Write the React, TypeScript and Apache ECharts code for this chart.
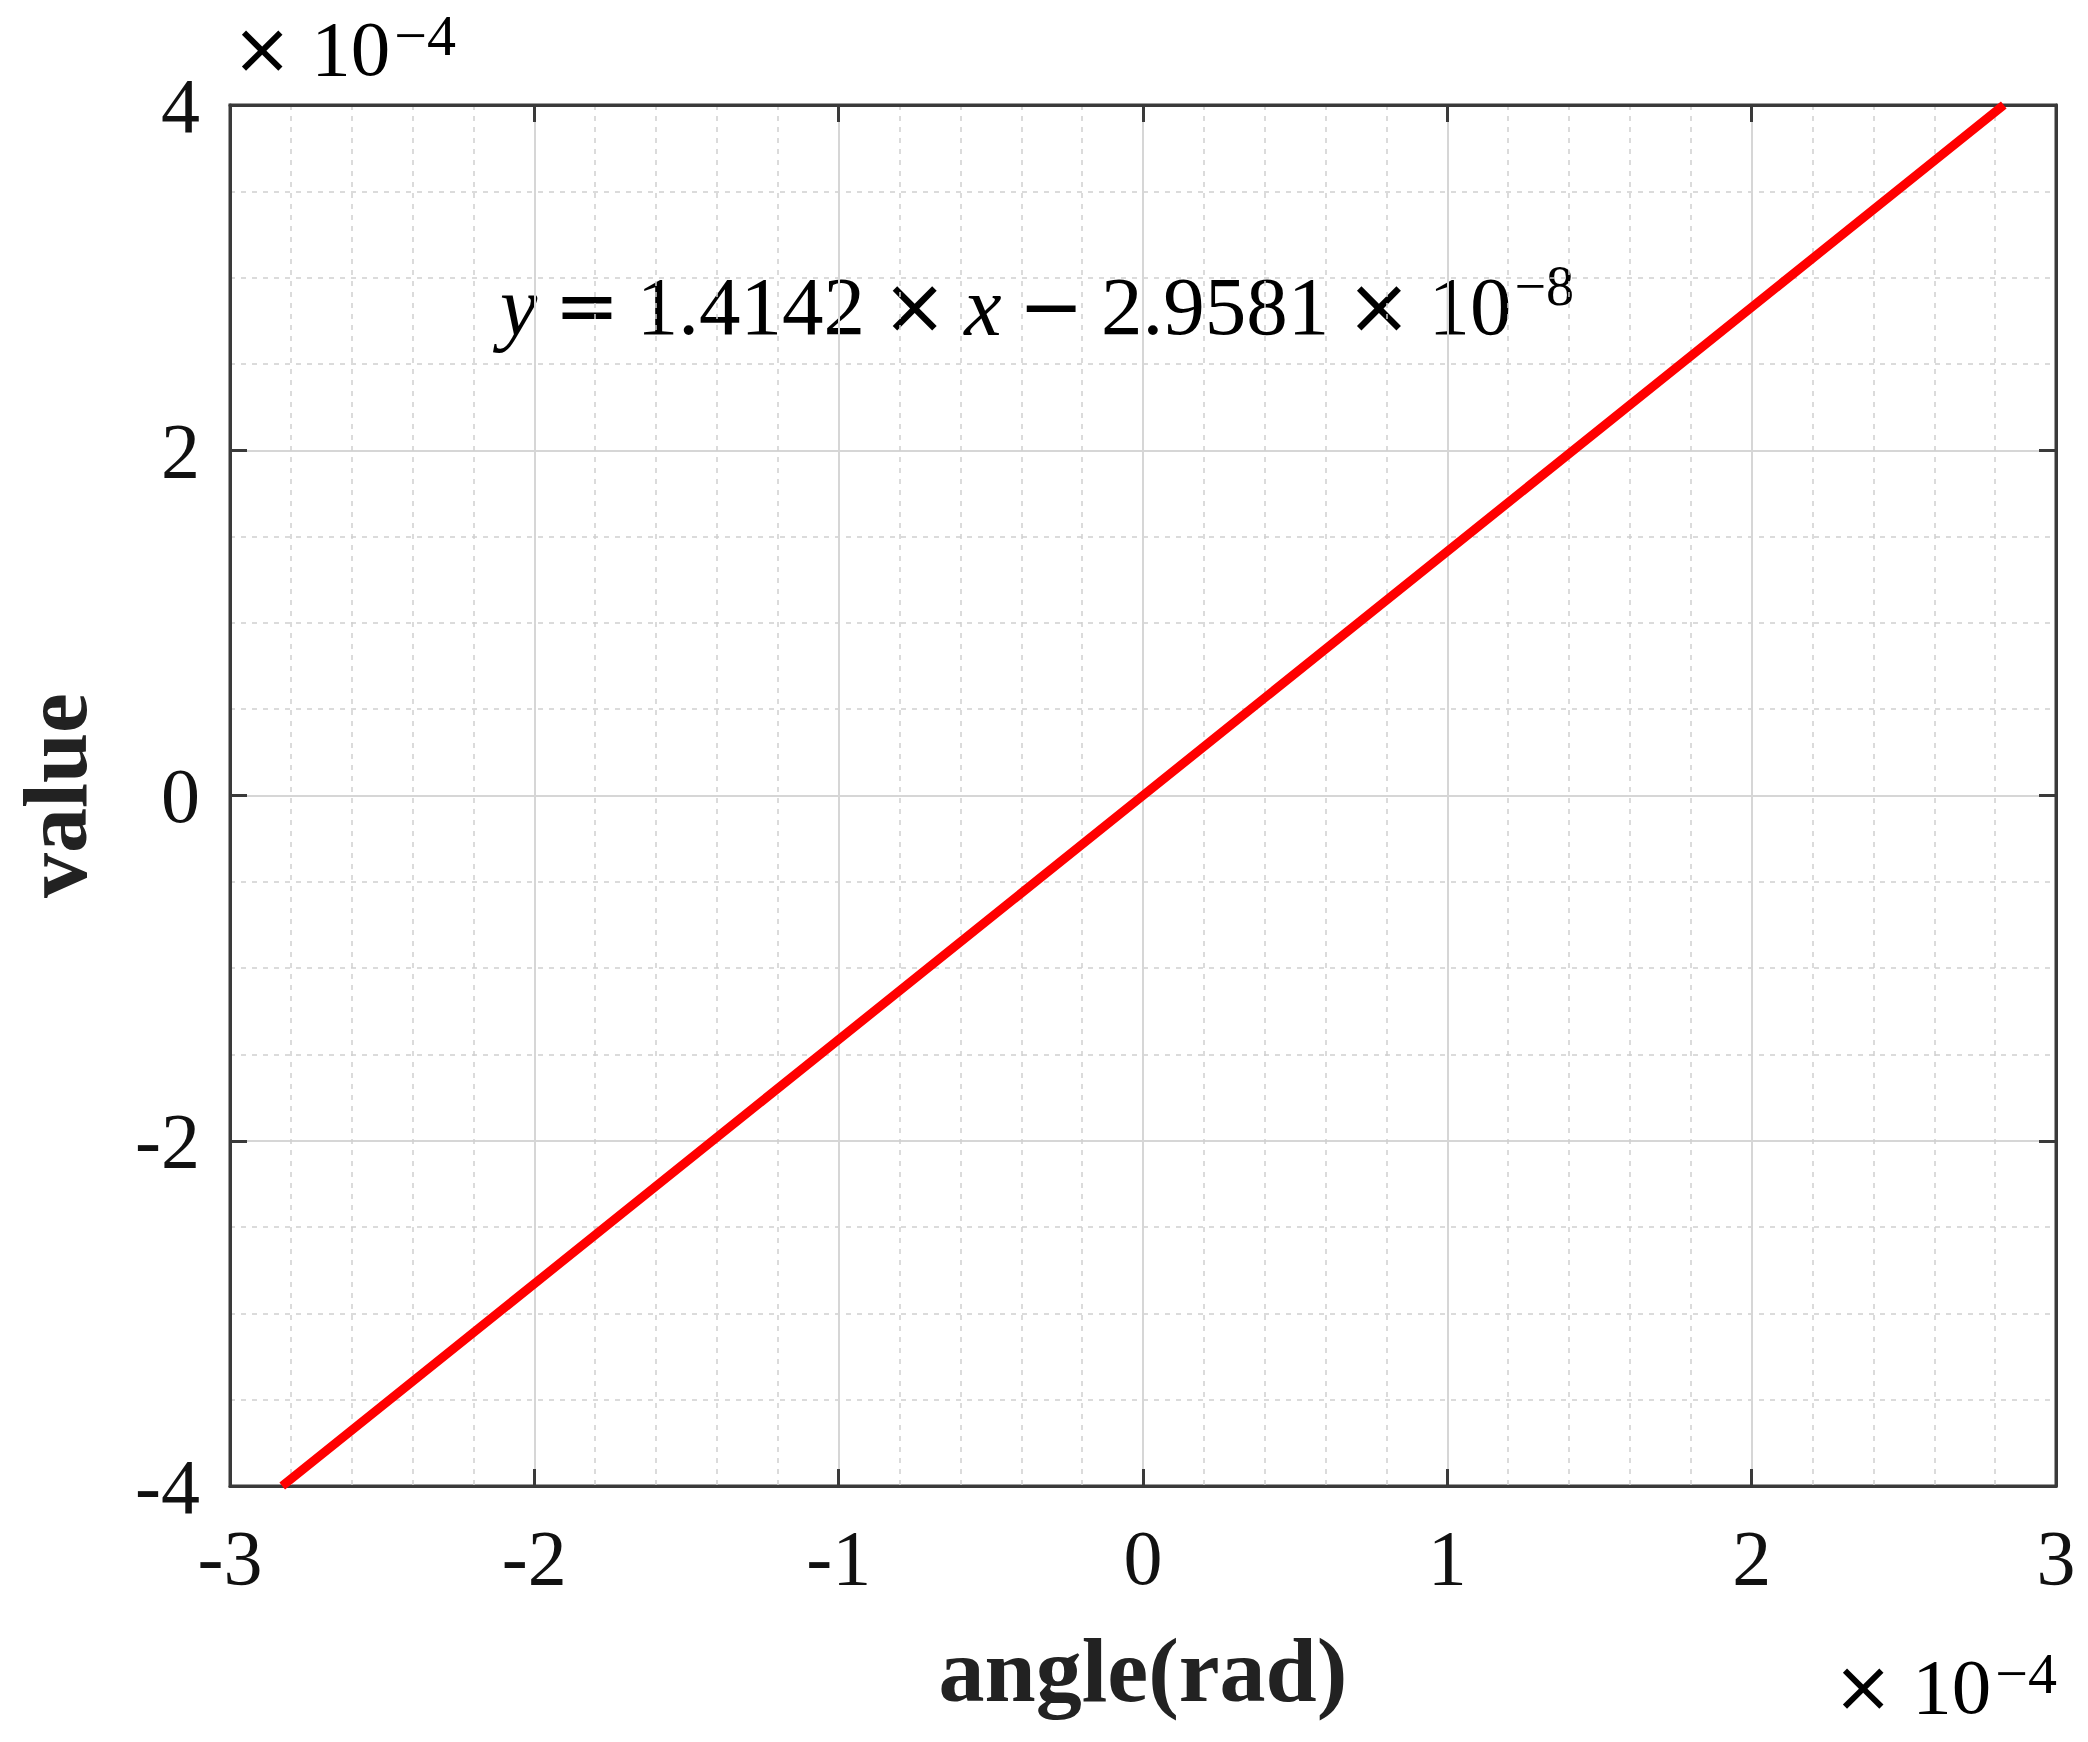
import React, { useEffect, useRef } from "react";
import * as echarts from "echarts";

// ---- data (values in units of 10^-4) ----
const lineX = [-2.8284, 0, 2.8284];
const lineY = [-4, 0, 4];
const xTickRange = [-3, 3];
const yTickRange = [-4, 4];
const xAxisName = "angle(rad)";
const yAxisName = "value";
const scaleBase = "10";
const scaleExp = "−4";
const eqSlope = "1.4142";
const eqIntercept = "2.9581";
const eqInterceptExp = "−8";

const FONT = "'Liberation Serif', 'DejaVu Serif', serif";
const OP_FONT = "'DejaVu Sans', 'Liberation Sans', sans-serif";
const AXIS_COLOR = "#3a3a3a";
const TEXT_COLOR = "#111111";

export default function App() {
  const ref = useRef<HTMLDivElement>(null);

  useEffect(() => {
    document.body.style.margin = "0";
    const chart = echarts.init(ref.current!, null, { renderer: "svg" });

    const SLH = 84;
    const scaleRich = {
      op: { fontFamily: OP_FONT, fontSize: 72, color: TEXT_COLOR, lineHeight: SLH, verticalAlign: "middle", padding: [0, 19, 0, 0] },
      a: { fontFamily: FONT, fontSize: 79, color: TEXT_COLOR, lineHeight: SLH, verticalAlign: "middle", padding: [0, 4, 0, 0] },
      s: { fontFamily: FONT, fontSize: 58, color: TEXT_COLOR, lineHeight: SLH, verticalAlign: "top" },
    };
    const scaleText = `{op|×}{a|${scaleBase}}{s|${scaleExp}}`;

    const LH = 96;
    const eqRich = {
      i: { fontFamily: FONT, fontSize: 84, fontStyle: "italic", color: TEXT_COLOR, lineHeight: LH, verticalAlign: "middle" },
      a: { fontFamily: FONT, fontSize: 83, color: TEXT_COLOR, lineHeight: LH, verticalAlign: "middle" },
      op: { fontFamily: OP_FONT, fontSize: 78, color: TEXT_COLOR, lineHeight: LH, verticalAlign: "middle", padding: [0, 17, 0, 17] },
      s: { fontFamily: FONT, fontSize: 56, color: TEXT_COLOR, lineHeight: LH, verticalAlign: "top", padding: [0, 0, 0, 3] },
    };
    const eqText = `{i|y}{op|=}{a|${eqSlope}}{op|×}{i|x}{op|−}{a|${eqIntercept}}{op|×}{a|10}{s|${eqInterceptExp}}`;

    const sideAxis = {
      show: true,
      axisLine: { show: true, onZero: false, lineStyle: { color: AXIS_COLOR, width: 3 } },
      axisTick: { show: true, inside: true, length: 17, lineStyle: { color: AXIS_COLOR, width: 3 } },
      axisLabel: { show: false },
      splitLine: { show: false },
    };

    const option: any = {
      animation: false,
      backgroundColor: "#ffffff",
      grid: {
        left: 230,
        right: 32,
        top: 105,
        bottom: 256,
        containLabel: false,
        outerBoundsMode: "none",
        show: true,
        borderColor: AXIS_COLOR,
        borderWidth: 3,
        backgroundColor: "#ffffff",
      },
      xAxis: [
        {
          type: "value",
          position: "bottom",
          min: xTickRange[0],
          max: xTickRange[1],
          interval: 1,
          axisLine: { show: true, onZero: false, lineStyle: { color: AXIS_COLOR, width: 3 } },
          axisTick: { show: true, inside: true, length: 17, lineStyle: { color: AXIS_COLOR, width: 3 } },
          axisLabel: { fontFamily: FONT, fontSize: 78, color: TEXT_COLOR, margin: 32 },
          splitLine: { show: true, lineStyle: { color: "#d6d6d6", width: 2 } },
          minorTick: { show: false, splitNumber: 5 },
          minorSplitLine: { show: true, lineStyle: { color: "#cfcfcf", width: 1.5, type: [5, 6] } },
          name: xAxisName,
          nameLocation: "middle",
          nameGap: 138,
          nameTextStyle: { fontFamily: FONT, fontSize: 92, fontWeight: "bold", color: "#222" },
        },
        {
          type: "value",
          position: "top",
          min: xTickRange[0],
          max: xTickRange[1],
          interval: 1,
          ...sideAxis,
        },
      ],
      yAxis: [
        {
          type: "value",
          position: "left",
          min: yTickRange[0],
          max: yTickRange[1],
          interval: 2,
          axisLine: { show: true, onZero: false, lineStyle: { color: AXIS_COLOR, width: 3 } },
          axisTick: { show: true, inside: true, length: 17, lineStyle: { color: AXIS_COLOR, width: 3 } },
          axisLabel: { fontFamily: FONT, fontSize: 78, color: TEXT_COLOR, margin: 30 },
          splitLine: { show: true, lineStyle: { color: "#d6d6d6", width: 2 } },
          minorTick: { show: false, splitNumber: 4 },
          minorSplitLine: { show: true, lineStyle: { color: "#cfcfcf", width: 1.5, type: [5, 6] } },
          name: yAxisName,
          nameLocation: "middle",
          nameGap: 140,
          nameTextStyle: { fontFamily: FONT, fontSize: 90, fontWeight: "bold", color: "#222", lineHeight: 70 },
        },
        {
          type: "value",
          position: "right",
          min: yTickRange[0],
          max: yTickRange[1],
          interval: 2,
          ...sideAxis,
        },
      ],
      series: [
        {
          type: "line",
          data: lineX.map((x, i) => [x, lineY[i]]),
          symbol: "none",
          lineStyle: { color: "#ff0000", width: 9 },
          z: 10,
          clip: false,
        },
      ],
      graphic: [
        {
          type: "text",
          left: 232,
          top: 6,
          style: { text: scaleText, rich: scaleRich },
        },
        {
          type: "text",
          left: 1833,
          top: 1644,
          style: { text: scaleText, rich: scaleRich },
        },
        {
          type: "text",
          left: 500,
          top: 258,
          style: { text: eqText, rich: eqRich },
        },
      ],
    };

    chart.setOption(option);
    return () => chart.dispose();
  }, []);

  return <div ref={ref} style={{ width: 2088, height: 1742 }} />;
}
